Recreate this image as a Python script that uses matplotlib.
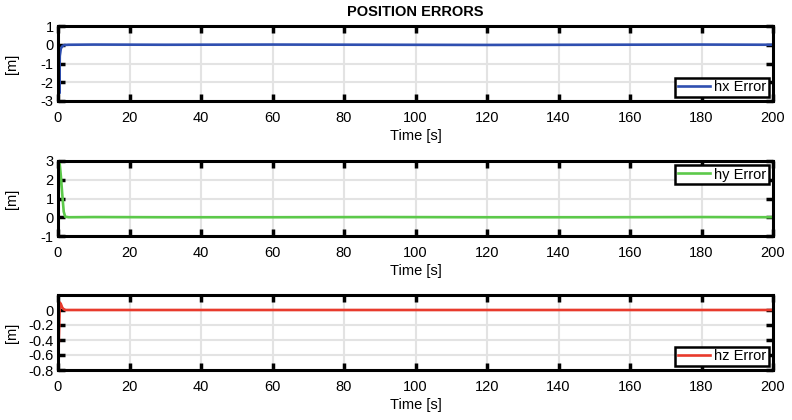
import matplotlib.pyplot as plt
import numpy as np

plt.rcParams["font.family"] = ["Liberation Sans", "DejaVu Sans"]

# time samples (s) and position errors (m)
t = [0, 0.35, 0.5, 0.8, 1.2, 1.6, 2.0, 3.0, 10, 30, 60, 90, 120, 150, 180, 200]
hx = [0.7, -2.6, -0.6, -0.2, -0.08, -0.03, -0.01, 0.0, 0.01, 0.0, 0.01, 0.0, -0.01, 0.0, 0.01, 0.0]
hy = [-0.3, 2.9, 2.8, 2.2, 1.2, 0.3, 0.03, 0.0, 0.01, 0.0, 0.0, 0.01, 0.0, 0.0, 0.01, 0.0]
hz = [-0.8, -0.2, 0.1, 0.08, 0.03, 0.01, 0.0, 0.0, 0.0, 0.0, 0.0, 0.0, 0.0, 0.0, 0.0, 0.0]

series = [hx, hy, hz]
labels = ["hx Error", "hy Error", "hz Error"]
colors = ["#2f4fb0", "#5cc94a", "#e83a2c"]
ylims = [(-3, 1), (-1, 3), (-0.8, 0.2)]
yticks = [[-3, -2, -1, 0, 1], [-1, 0, 1, 2, 3], [-0.8, -0.6, -0.4, -0.2, 0]]
ytick_labels = [["-3", "-2", "-1", "0", "1"], ["-1", "0", "1", "2", "3"],
                ["-0.8", "-0.6", "-0.4", "-0.2", "0"]]
legend_loc = ["lower right", "upper right", "lower right"]
xticks = list(range(0, 201, 20))

fig = plt.figure(figsize=(7.92, 4.2), dpi=100)
# axes boxes in pixels: left, top, right, bottom
boxes = [(58, 26, 773, 101), (58, 161, 773, 236), (58, 295, 773, 370)]
W, H = 792, 420

for i, (l, tp, r, b) in enumerate(boxes):
    ax = fig.add_axes([l / W, 1 - b / H, (r - l) / W, (b - tp) / H])
    ax.plot(t, series[i], color=colors[i], lw=1.9, label=labels[i])
    ax.set_xlim(0, 200)
    ax.set_ylim(*ylims[i])
    ax.set_xticks(xticks)
    ax.set_yticks(yticks[i])
    ax.set_yticklabels(ytick_labels[i])
    ax.grid(True, color="#e3e3e3", lw=1.5)
    ax.set_axisbelow(True)
    ax.tick_params(axis="both", direction="in", length=5, width=2.5,
                   labelsize=10.5, top=True, right=True)
    ax.tick_params(axis="x", pad=7.5)
    ax.tick_params(axis="y", pad=3)
    for axis in ["top", "bottom", "left", "right"]:
        ax.spines[axis].set_linewidth(2.2)
    ax.set_xlabel("Time [s]", fontsize=10.5, labelpad=2.5)
    ax.set_ylabel("[m]", fontsize=10.5)
    ax.yaxis.set_label_coords(-0.0545, 0.5)
    leg = ax.legend(loc=legend_loc[i], fontsize=10.5, fancybox=False,
                    borderpad=0.2, handlelength=2.2, handletextpad=0.3,
                    borderaxespad=0.25, framealpha=1)
    leg.get_frame().set_edgecolor("black")
    leg.get_frame().set_linewidth(1.8)
    if i == 0:
        ax.set_title("POSITION ERRORS", fontsize=10.5, fontweight="bold", pad=7)

fig.savefig("out.png", dpi=100)
